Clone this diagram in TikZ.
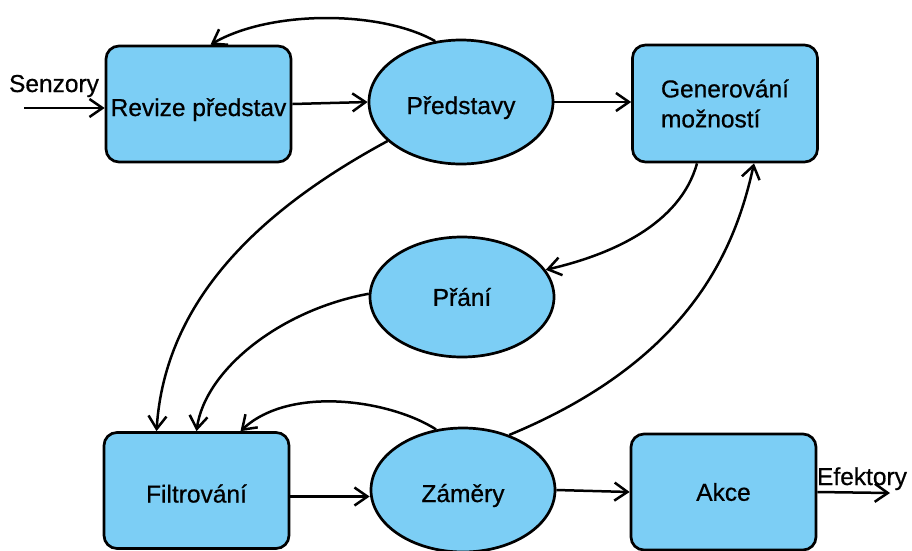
\documentclass[tikz,border=0pt]{standalone}
\usepackage{fontspec}
\setmainfont{Liberation Sans}[UprightFeatures={FakeBold=0.6}]
\usetikzlibrary{arrows.meta,shapes.geometric}
\definecolor{nodefill}{RGB}{124,206,245}
\begin{document}
\begin{tikzpicture}[x=1pt,y=-1pt,
  every node/.style={font=\fontsize{24.5}{30}\selectfont},
  procbox/.style={draw=black, line width=2.7pt, fill=nodefill, rounded corners=13pt,
    minimum width=185pt, minimum height=116pt, inner sep=0pt},
  statebubble/.style={ellipse, draw=black, line width=2.7pt, fill=nodefill,
    minimum width=184pt, minimum height=124pt, inner sep=0pt},
  lowtext/.style={text height=24pt, text depth=0pt},
  flow/.style={line width=2.5pt, -{Straight Barb[length=13pt,width=18pt,line width=2.5pt]}}]
\useasboundingbox (0,0) rectangle (912,550);

% processes and mental states
\node[procbox, lowtext] (rev) at (198.5,104) {Revize představ};
\node[statebubble, lowtext] (pr) at (461,102) {Představy};
\node[procbox, minimum height=117pt, align=left] (gen) at (725,103.5) {Generování\\možností};
\node[statebubble, minimum height=120pt] (pra) at (462,297) {Přání};
\node[procbox, lowtext] (fil) at (196.5,490.5) {Filtrování};
\node[statebubble, lowtext] (zam) at (463,490) {Záměry};
\node[procbox] (akc) at (723.5,492) {Akce};

% input and output labels
\node[anchor=base, inner sep=0pt] (senz) at (54,92) {Senzory};
\node[anchor=base, inner sep=0pt] (efek) at (862,485) {Efektory};
\coordinate (sin) at (24,108);
\coordinate (eout) at (890,493);

% straight flows
\draw[flow] (sin) -- (rev.west |- sin);
\draw[flow] (rev.east) -- (pr.west);
\draw[flow] (pr.east) -- (gen.west |- pr.east);
\draw[flow] ([yshift=-6pt]fil.east) -- ([yshift=-6pt]fil.east -| zam.west);
\draw[flow] (zam.east) -- (akc.west);
\draw[flow] (akc.east) -- (eout);

% curved flows
\draw[flow] (pr.113) .. controls (380,10) and (270,10) .. ([xshift=12pt]rev.north);
\draw[flow] (pr.208) .. controls (260,210) and (165,300) .. ([xshift=-40pt]fil.north);
\draw[flow] ([xshift=-28pt]gen.south) .. controls (680,225) and (610,255) .. (pra.18);
\draw[flow] (pra.178) .. controls (280,310) and (205,370) .. (fil.north);
\draw[flow] (zam.114) .. controls (390,400) and (290,385) .. ([xshift=44pt]fil.north);
\draw[flow] (zam.50) .. controls (690,360) and (735,250) .. ([xshift=29pt]gen.south);
\end{tikzpicture}
\end{document}
